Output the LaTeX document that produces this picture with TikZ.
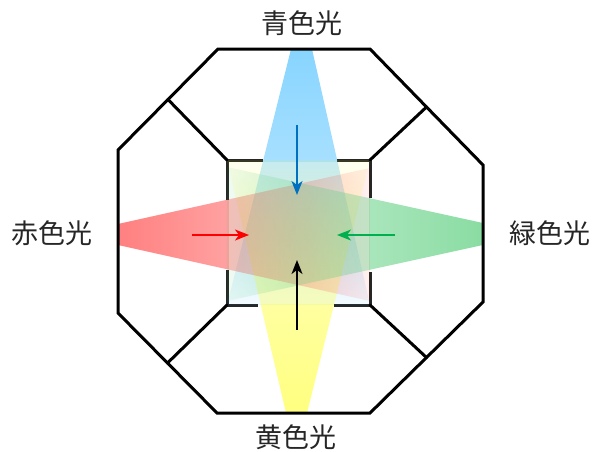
\documentclass[tikz,border=0pt]{standalone}
\usepackage{fontspec}
\newfontfamily\cjk{Noto Sans CJK JP}
\usetikzlibrary{arrows.meta,fadings}
\definecolor{beamR}{RGB}{255,0,0}
\definecolor{beamB}{RGB}{15,170,255}
\definecolor{beamG}{RGB}{20,185,70}
\definecolor{beamY}{RGB}{255,255,0}
\definecolor{arrB}{RGB}{0,112,192}
\definecolor{arrG}{RGB}{0,176,80}
\pgfdeclarehorizontalshading{fadeshade}{100bp}{color(0bp)=(transparent!50); color(25bp)=(transparent!50); color(50bp)=(transparent!65); color(62.5bp)=(transparent!75); color(75bp)=(transparent!92); color(100bp)=(transparent!92)}
\tikzfading[name=fadeE, shading=fadeshade]
\tikzfading[name=fadeW, shading=fadeshade, shading angle=180]
\tikzfading[name=fadeS, shading=fadeshade, shading angle=270]
\tikzfading[name=fadeN, shading=fadeshade, shading angle=90]
\begin{document}
\begin{tikzpicture}[x=1pt,y=-1pt,
  frame/.style={line width=3pt, line join=miter, line cap=round},
  sqedge/.style={line width=3pt, black!85},
  lightarrow/.style={line width=1.5pt, -{Stealth[length=14pt,width=11pt,inset=4pt]}},
  label/.style={font=\cjk\fontsize{27}{27}\selectfont, text=black!85, inner sep=0pt}]
\useasboundingbox (0,0) rectangle (593,451);
% inner square border (hidden where strong beams cross)
\draw[sqedge] (227,160) -- (263,160) (337,160) -- (370,160);
\draw[sqedge] (370,160) -- (370,198) (370,272) -- (370,305);
\draw[sqedge] (227,305) -- (258,305) (334,305) -- (370,305);
\draw[sqedge] (227,160) -- (227,200) (227,270) -- (227,305);
% beams
\fill[beamB, path fading=fadeS] (291,49) -- (312,49) -- (370,305) -- (227,305) -- cycle;
\fill[beamY, path fading=fadeN] (286,413) -- (307,413) -- (370,160) -- (227,160) -- cycle;
\fill[beamR, path fading=fadeE] (118,224) -- (370,168) -- (370,301) -- (118,245) -- cycle;
\fill[beamG, path fading=fadeW] (483,223) -- (227,167) -- (227,301) -- (483,245) -- cycle;
% lightening overlay inside square
\fill[white, opacity=0.3] (228.5,161.5) rectangle (368.5,303.5);
% octagon and spokes
\draw[frame] (218,49) -- (370,49) -- (483,165) -- (483,302) -- (370,413) -- (217,413) -- (118,313) -- (118,150) -- cycle;
\draw[frame] (227,160) -- (168,99.5);
\draw[frame] (370,160) -- (426.5,107);
\draw[frame] (227,305) -- (167.5,363);
\draw[frame] (370,305) -- (426.5,357.5);
% arrows
\coordinate (bS) at (297,125); \coordinate (bE) at (297,195);
\coordinate (rS) at (192,235); \coordinate (rE) at (249,235);
\coordinate (gS) at (395,235); \coordinate (gE) at (337,235);
\coordinate (yS) at (297,330); \coordinate (yE) at (297,260);
\draw[lightarrow, arrB] (bS) -- (bE);
\draw[lightarrow, red] (rS) -- (rE);
\draw[lightarrow, arrG] (gS) -- (gE);
\draw[lightarrow, black] (yS) -- (yE);
% labels
\node[label] (blue) at (302,23) {青色光};
\node[label] (yellow) at (296,437) {黄色光};
\node[label] (red) at (52,233) {赤色光};
\node[label] (green) at (550,233) {緑色光};
\end{tikzpicture}
\end{document}
